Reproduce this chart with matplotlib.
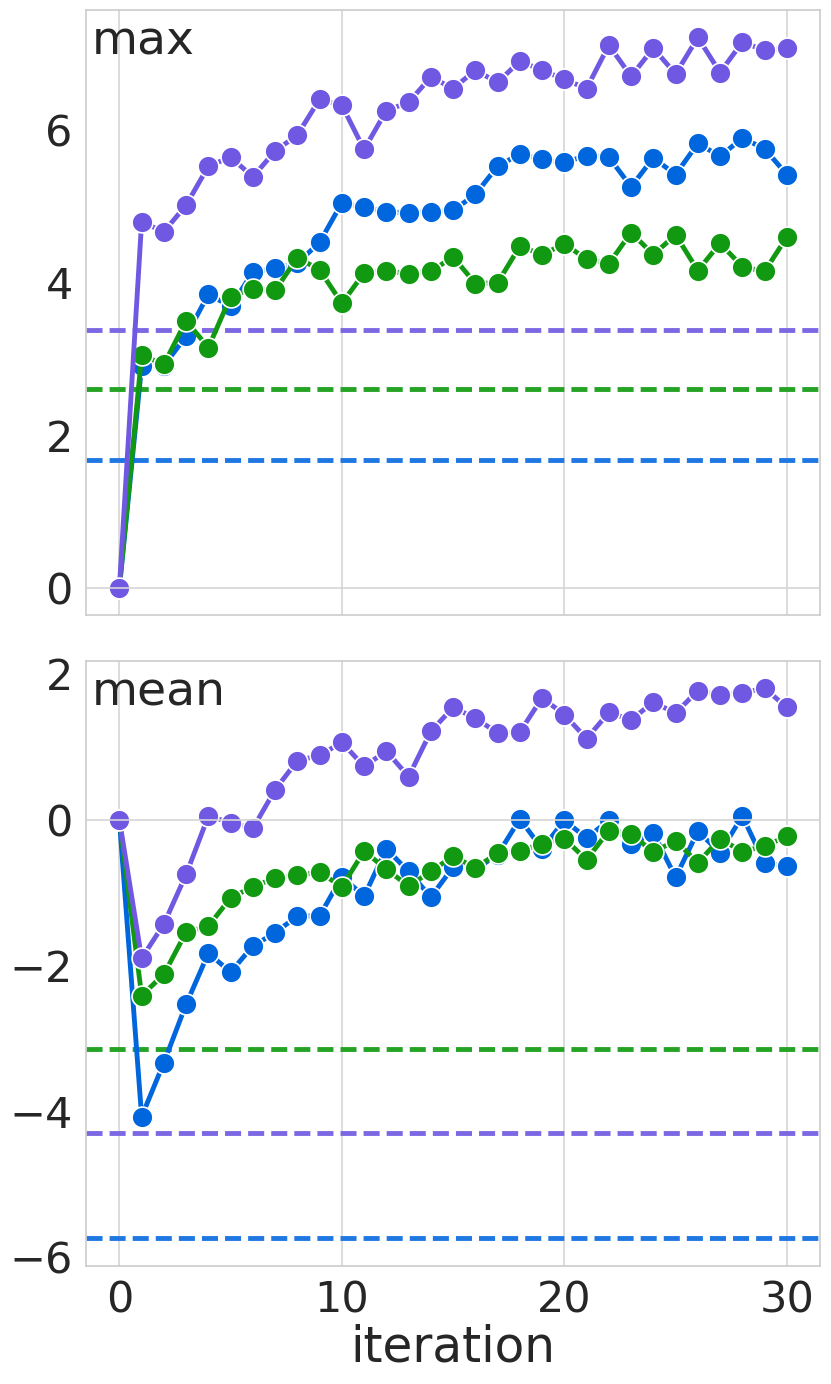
import matplotlib
matplotlib.use("Agg")
import matplotlib.pyplot as plt
import seaborn as sns
import numpy as np

sns.set_style("whitegrid")
plt.rcParams['font.family'] = ['DejaVu Sans']

iterations = list(range(31))

max_blue = [0, 2.91, 2.91, 3.30, 3.85, 3.69, 4.14, 4.19, 4.26, 4.53, 5.05,
            4.99, 4.93, 4.92, 4.93, 4.95, 5.16, 5.53, 5.69, 5.62, 5.58,
            5.67, 5.65, 5.26, 5.64, 5.42, 5.83, 5.66, 5.90, 5.76, 5.42]
max_green = [0, 3.05, 2.93, 3.50, 3.15, 3.82, 3.92, 3.90, 4.33, 4.17, 3.73,
             4.13, 4.15, 4.12, 4.15, 4.34, 3.99, 4.00, 4.48, 4.37, 4.51,
             4.31, 4.25, 4.66, 4.37, 4.63, 4.16, 4.52, 4.21, 4.15, 4.60]
max_purple = [0, 4.80, 4.67, 5.02, 5.53, 5.65, 5.39, 5.73, 5.94, 6.41, 6.33,
              5.75, 6.26, 6.37, 6.70, 6.55, 6.79, 6.63, 6.91, 6.79, 6.67,
              6.55, 7.12, 6.71, 7.08, 6.74, 7.22, 6.76, 7.16, 7.05, 7.08]
max_baselines = {"blue": 1.68, "green": 2.60, "purple": 3.38}

mean_blue = [0, -4.07, -3.33, -2.53, -1.83, -2.09, -1.73, -1.55, -1.32, -1.32, -0.78,
             -1.05, -0.40, -0.71, -1.06, -0.65, -0.68, -0.48, 0.01, -0.40, -0.01,
             -0.25, -0.01, -0.34, -0.18, -0.79, -0.16, -0.45, 0.05, -0.59, -0.64]
mean_green = [0, -2.41, -2.12, -1.54, -1.46, -1.07, -0.92, -0.80, -0.76, -0.72, -0.92,
              -0.43, -0.68, -0.91, -0.71, -0.50, -0.66, -0.46, -0.43, -0.33, -0.26,
              -0.55, -0.15, -0.20, -0.44, -0.29, -0.59, -0.26, -0.44, -0.36, -0.23]
mean_purple = [0, -1.90, -1.43, -0.75, 0.05, -0.04, -0.12, 0.41, 0.81, 0.88, 1.06,
               0.73, 0.94, 0.59, 1.21, 1.54, 1.39, 1.19, 1.20, 1.67, 1.44,
               1.11, 1.47, 1.37, 1.61, 1.46, 1.77, 1.71, 1.74, 1.80, 1.54]
mean_baselines = {"blue": -5.74, "green": -3.14, "purple": -4.29}

colors = {"blue": "#0066dd", "green": "#119a11", "purple": "#7158e2"}
dash_colors = {"blue": "#1f77e2", "green": "#24a324", "purple": "#7d68e4"}
grid_color = "#d5d5d5"

fig = plt.figure(figsize=(8.31, 13.84), dpi=100)
ax1 = fig.add_axes([0.1035, 0.5556, 0.8835, 0.4372])
ax2 = fig.add_axes([0.1035, 0.0853, 0.8835, 0.4372], sharex=ax1)

panels = [
    (ax1, "max", {"blue": max_blue, "green": max_green, "purple": max_purple}, max_baselines, [0, 2, 4, 6]),
    (ax2, "mean", {"blue": mean_blue, "green": mean_green, "purple": mean_purple}, mean_baselines, [-6, -4, -2, 0, 2]),
]

for ax, title, series, baselines, yt in panels:
    ax.grid(False)
    ax.grid(True, axis="x", color=grid_color, lw=1.2)
    for key in ["blue", "green", "purple"]:
        ax.axhline(baselines[key], color=dash_colors[key], lw=3.5, ls=(0, (3.3, 1.45)), zorder=1.5)
    for key in ["blue", "green", "purple"]:
        ax.plot(iterations, series[key], color=colors[key], lw=3.5, marker="o",
                markersize=15, markeredgecolor="white", markeredgewidth=1.2, zorder=2)
    ax.axhline(0, color=grid_color, lw=1.2, zorder=2.5)
    ax.set_yticks(yt)
    ax.tick_params(axis="both", labelsize=31, pad=6)
    ax.text(0.008, 0.927, title, transform=ax.transAxes, fontsize=34,
            va="baseline", ha="left", color="#262626")
    for s in ax.spines.values():
        s.set_color("#cccccc")
        s.set_linewidth(1.2)

ax1.set_xticks([0, 10, 20, 30])
plt.setp(ax1.get_xticklabels(), visible=False)
ax2.set_xlabel("iteration", fontsize=35, labelpad=2, color="#262626")

fig.savefig("out.png", dpi=100)
